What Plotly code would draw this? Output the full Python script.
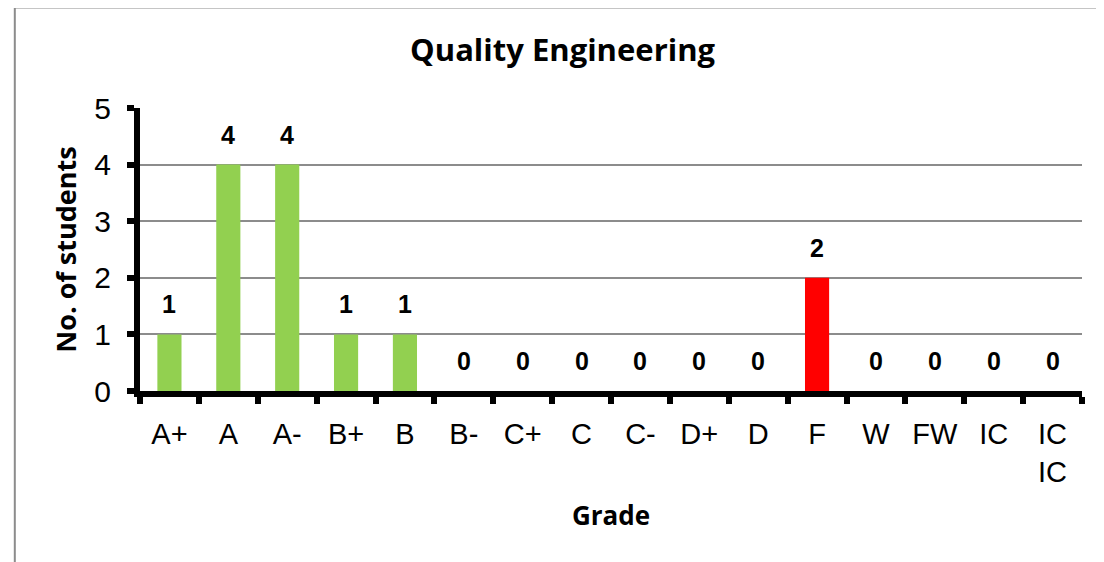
"""Grade distribution chart - Quality Engineering."""
import plotly.graph_objects as go

grades = ["A+", "A", "A-", "B+", "B", "B-", "C+", "C", "C-", "D+", "D", "F",
          "W", "FW", "IC", "IC<br>IC"]
students = [1, 4, 4, 1, 1, 0, 0, 0, 0, 0, 0, 2, 0, 0, 0, 0]
bar_colors = ["#92D050"] * 11 + ["#FF0000"] + ["#92D050"] * 4

ARIAL = "Liberation Sans, Arial, sans-serif"
CALIBRI = "Open Sans, Calibri, sans-serif"

fig = go.Figure()
fig.add_trace(
    go.Bar(
        x=grades, y=students, marker=dict(color=bar_colors, line=dict(width=0)),
        width=0.41, showlegend=False, hoverinfo="skip",
    )
)
for g, v in zip(grades, students):
    fig.add_annotation(
        x=g, y=v, text=f"<b>{v}</b>", showarrow=False, yanchor="middle", yshift=30,
        font=dict(family=ARIAL, size=25, color="black"),
    )

# outer chart border (left and top visible, rest cut off by the window)
fig.add_shape(
    type="rect", xref="paper", yref="paper", x0=-0.1329, y0=-1.0, x1=1.2, y1=1.355,
    line=dict(color="#8C8C8C", width=2), layer="below",
)

fig.update_layout(
    width=1096, height=554,
    margin=dict(l=132, r=22, t=100, b=171),
    paper_bgcolor="white", plot_bgcolor="white",
    title=dict(
        text="<b>Quality Engineering</b>", x=0.506, xanchor="center", xref="container",
        y=0.924, yanchor="middle", font=dict(family=CALIBRI, size=31, color="black"),
    ),
    xaxis=dict(
        showline=True, linecolor="black", linewidth=6, ticks="outside", tickson="boundaries",
        ticklen=7, tickwidth=6, tickcolor="black", showgrid=False, tickangle=0,
        ticklabelstandoff=12,
        tickfont=dict(family=ARIAL, size=29, color="black"),
        title=dict(text="<b>Grade</b>", standoff=22,
                   font=dict(family=CALIBRI, size=26, color="black")),
    ),
    yaxis=dict(
        range=[0, 5], dtick=1, showline=True, linecolor="black", linewidth=6,
        ticks="outside", ticklen=7, tickwidth=6, tickcolor="black", ticklabelstandoff=10,
        showgrid=True, gridcolor="#8C8C8C", gridwidth=1.5, zeroline=False,
        tickfont=dict(family=ARIAL, size=30, color="black"),
        title=dict(text="<b>No. of students</b>", standoff=12,
                   font=dict(family=CALIBRI, size=27, color="black")),
    ),
)

fig.write_html("out.html")
